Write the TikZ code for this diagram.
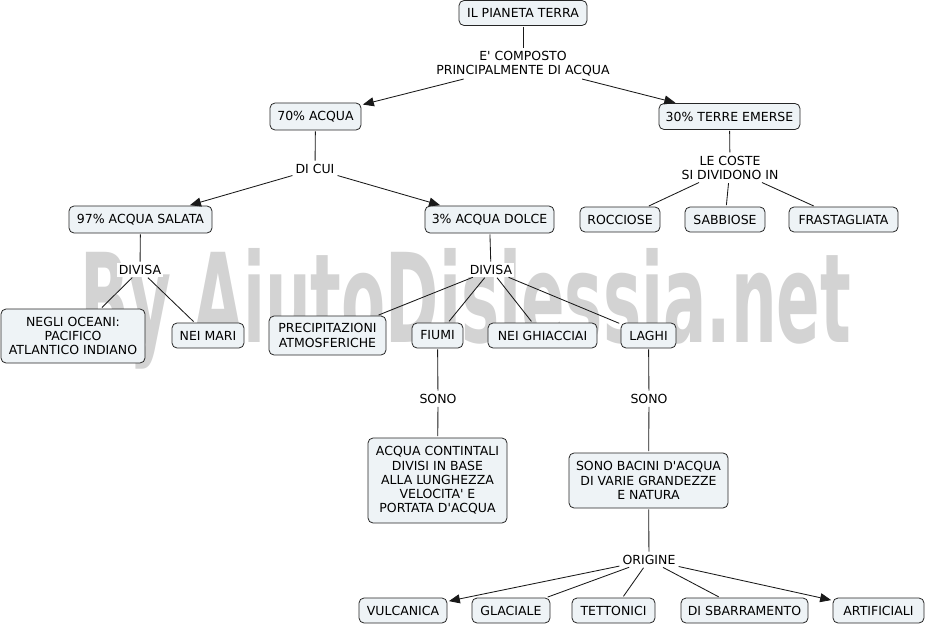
\documentclass[tikz,border=0pt]{standalone}
\usepackage{fontspec}
\newfontfamily\mf{DejaVu Sans}
\newfontfamily\wmf{DejaVu Sans}
\usetikzlibrary{arrows.meta}
\definecolor{boxfill}{HTML}{EEF3F6}
\definecolor{wmgray}{HTML}{D3D3D3}
\begin{document}
\begin{tikzpicture}[x=1pt,y=-1pt,
  font=\mf\fontsize{12.5}{14.3}\selectfont,
  box/.style={draw=black!85, fill=boxfill, rounded corners=5pt, line width=0.8pt,
    inner xsep=4pt, inner ysep=2pt, minimum height=25pt, align=center},
  lab/.style={fill=white, inner sep=2pt, align=center},
  conn/.style={draw=black!90, line width=0.85pt, shorten <=1pt, shorten >=1.5pt},
  arr/.style={conn, -{Triangle[length=11pt,width=9pt]}}
]
\useasboundingbox (0,0) rectangle (927,626);
\node[anchor=base west, inner sep=0pt, text=wmgray] (wm) at (80,342)
  {\resizebox{771pt}{94pt}{\wmf\bfseries By AiutoDislessia.net}};

\node[box, minimum width=128pt, minimum height=25pt] (t) at (523,13) {IL PIANETA TERRA};
\node[lab] (l1) at (523,64) {E' COMPOSTO\\PRINCIPALMENTE DI ACQUA};
\node[box, minimum width=91pt, minimum height=27pt] (a70) at (315.5,116.5) {70\% ACQUA};
\node[box, minimum width=141pt, minimum height=26pt] (t30) at (729.5,116.5) {30\% TERRE EMERSE};
\node[lab] (dicui) at (315,169) {DI CUI};
\node[box, minimum width=143pt, minimum height=27pt] (s97) at (140.5,219.5) {97\% ACQUA SALATA};
\node[box, minimum width=129pt, minimum height=27pt] (d3) at (489.5,219.5) {3\% ACQUA DOLCE};
\node[lab] (coste) at (730,168) {LE COSTE\\SI DIVIDONO IN};
\node[box, minimum width=80pt] (roc) at (620,219.5) {ROCCIOSE};
\node[box, minimum width=80pt] (sab) at (725,219.5) {SABBIOSE};
\node[box, minimum width=109pt] (fra) at (843.5,219.5) {FRASTAGLIATA};
\node[lab] (div1) at (140,270) {DIVISA};
\node[lab] (div2) at (491,270) {DIVISA};
\node[box, minimum width=144pt, minimum height=54pt] (neg) at (73,336) {NEGLI OCEANI:\\PACIFICO\\ATLANTICO INDIANO};
\node[box, minimum width=72pt] (mari) at (208,335.5) {NEI MARI};
\node[box, minimum width=117pt, minimum height=39pt] (prec) at (327.5,335.5) {PRECIPITAZIONI\\ATMOSFERICHE};
\node[box, minimum width=51pt] (fiumi) at (437.5,335.5) {FIUMI};
\node[box, minimum width=109pt] (ghi) at (542.5,335.5) {NEI GHIACCIAI};
\node[box, minimum width=55pt] (laghi) at (648.5,335.5) {LAGHI};
\node[lab] (sono1) at (438,399) {SONO};
\node[lab] (sono2) at (649,399) {SONO};
\node[box, minimum width=139pt, minimum height=85pt] (acq) at (437.5,480.5) {ACQUA CONTINTALI\\DIVISI IN BASE\\ALLA LUNGHEZZA\\VELOCITA' E\\PORTATA D'ACQUA};
\node[box, minimum width=159pt, minimum height=55pt] (bac) at (648.5,480.5) {SONO BACINI D'ACQUA\\DI VARIE GRANDEZZE\\E NATURA};
\node[lab] (orig) at (649,560) {ORIGINE};
\node[box, minimum width=88pt] (vul) at (403,610.5) {VULCANICA};
\node[box, minimum width=78pt] (gla) at (511,610.5) {GLACIALE};
\node[box, minimum width=83pt] (tet) at (613.5,610.5) {TETTONICI};
\node[box, minimum width=127pt] (sba) at (744.5,610.5) {DI SBARRAMENTO};
\node[box, minimum width=91pt] (art) at (878.5,610.5) {ARTIFICIALI};

\draw[conn] (t) -- (l1);
\draw[arr] (l1) -- (a70);
\draw[arr] (l1) -- (t30);
\draw[conn] (a70) -- (dicui);
\draw[arr] (dicui) -- (s97);
\draw[arr] (dicui) -- (d3);
\draw[conn] (t30) -- (coste);
\draw[conn] (coste) -- (roc);
\draw[conn] (coste) -- (sab);
\draw[conn] (coste) -- (fra);
\draw[conn] (s97) -- (div1);
\draw[conn] (div1) -- (neg);
\draw[conn] (div1) -- (mari);
\draw[conn] (d3) -- (div2);
\draw[conn] (div2) -- (prec);
\draw[conn] (div2) -- (fiumi);
\draw[conn] (div2) -- (ghi);
\draw[conn] (div2) -- (laghi);
\draw[conn] (fiumi) -- (sono1);
\draw[conn] (sono1) -- (acq);
\draw[conn] (laghi) -- (sono2);
\draw[conn] (sono2) -- (bac);
\draw[conn] (bac) -- (orig);
\draw[arr] (orig) -- (vul);
\draw[conn] (orig) -- (gla);
\draw[conn] (orig) -- (tet);
\draw[conn] (orig) -- (sba);
\draw[arr] (orig) -- (art);
\end{tikzpicture}
\end{document}
